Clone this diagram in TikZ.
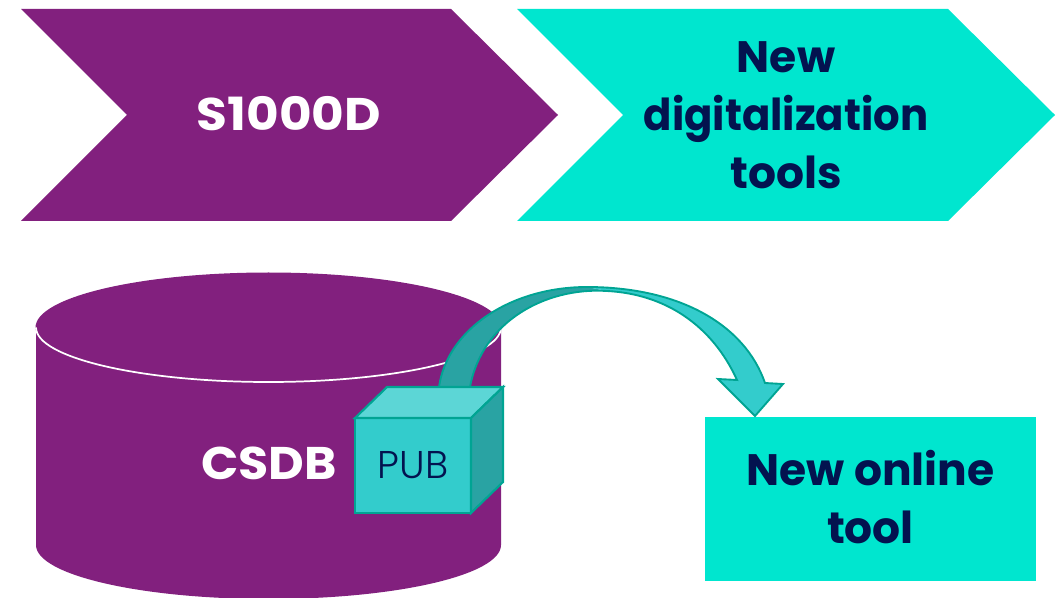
\documentclass[tikz,border=0pt]{standalone}
\usepackage{fontspec}
\setmainfont{Poppins}
\newfontfamily\lightf{Poppins Light}
\definecolor{purp}{HTML}{82207E}
\definecolor{teal1}{HTML}{00E6CF}
\definecolor{navy}{HTML}{03134F}
\definecolor{edge}{HTML}{00A493}
\definecolor{cubefront}{HTML}{33CCCC}
\definecolor{cubetop}{HTML}{5CD6D6}
\definecolor{cubeside}{HTML}{29A3A3}
\tikzset{
  x=0.75pt,y=-0.75pt,
  bigw/.style={font=\fontsize{33}{43.5}\selectfont\bfseries,text=white,align=center,inner sep=0},
  bign/.style={font=\fontsize{33}{43.5}\selectfont\bfseries,text=navy,align=center,inner sep=0},
  cubeface/.style={draw=edge,line width=1.6pt,line join=miter}
}
\begin{document}
\begin{tikzpicture}
\useasboundingbox (0,0) rectangle (1059,598);
% chevrons
\fill[purp] (21,9) -- (451,9) -- (558,115) -- (451,221) -- (21,221) -- (127,115) -- cycle;
\fill[teal1] (517,9) -- (948,9) -- (1055,115) -- (948,221) -- (517,221) -- (623,115) -- cycle;
\node[bigw] (s) at (289,114) {\scalebox{1.14}[1.04]{S1000D}};
\node[bign] (d) at (786,115) {New\\\scalebox{0.95}[1]{digitalization}\\tools};
% cylinder
\begin{scope}
\clip (0,0) rectangle (1059,598);
\fill[purp] (36,327) -- (36,545) arc[start angle=180,end angle=0,x radius=232.5,y radius=54] -- (501,327) -- cycle;
\end{scope}
\fill[purp] (268.5,327.5) ellipse[x radius=233,y radius=55];
\draw[white,line width=1.3pt] (36,327.5) arc[start angle=180,end angle=0,x radius=232.5,y radius=54.5];
\node[bigw] (c) at (269,463) {\scalebox{1.115}[1.04]{CSDB}};
% online tool
\node[fill=teal1,minimum width=248.25pt,minimum height=123pt,inner sep=0] (bx) at (870.5,499) {};
\node[bign] (t) at (870.5,497.5) {New online\\tool};
% curved arrow
\fill[cubeside] (439,387) .. controls (447,330) and (510,287) .. (587,287) -- (607,291) .. controls (545,287) and (482,322) .. (470,387) -- cycle;
\fill[cubefront] (587,287) .. controls (680,287) and (745,325) .. (765,383) -- (783,384) -- (755,416) -- (718,379) -- (737,380) .. controls (712,325) and (665,294) .. (607,291) -- cycle;
\draw[edge,line width=1.4pt,line join=miter] (439,387) .. controls (447,330) and (510,287) .. (587,287) .. controls (680,287) and (745,325) .. (765,383) -- (783,384) -- (755,416) -- (718,379) -- (737,380) .. controls (712,325) and (665,294) .. (607,291) .. controls (545,287) and (482,322) .. (470,387);
% cube
\draw[cubeface,fill=cubefront] (355,418) rectangle (471,513);
\draw[cubeface,fill=cubetop] (355,418) -- (387,387) -- (503,387) -- (471,418) -- cycle;
\draw[cubeface,fill=cubeside] (471,418) -- (503,387) -- (503,482) -- (471,513) -- cycle;
\node[font=\fontsize{29}{32}\selectfont\lightf,text=navy,inner sep=0] (p) at (413,465) {PUB};
\end{tikzpicture}
\end{document}
